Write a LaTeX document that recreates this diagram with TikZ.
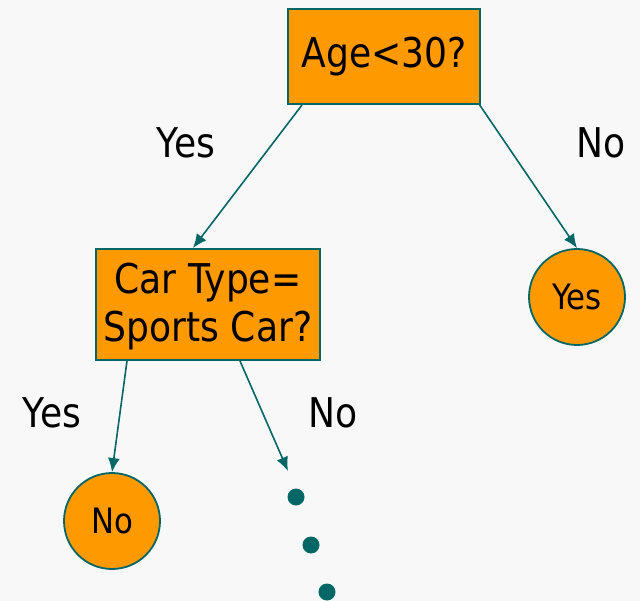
\documentclass[tikz,border=0pt]{standalone}
\usepackage{fontspec}
\usetikzlibrary{arrows.meta}
\setmainfont[FakeStretch=0.88]{DejaVu Sans}
\definecolor{bg}{HTML}{F8F8F8}
\definecolor{orng}{HTML}{FF9900}
\definecolor{teal2}{HTML}{006666}
\begin{document}
\begin{tikzpicture}[x=1pt,y=-1pt,
  dec/.style={draw=teal2,line width=1.8pt,fill=orng,inner sep=0pt,font=\fontsize{41}{48}\selectfont,align=center},
  leaf/.style={draw=teal2,line width=1.8pt,fill=orng,circle,minimum size=96pt,inner sep=0pt,font=\fontsize{35}{40}\selectfont},
  lab/.style={font=\fontsize{41}{46}\selectfont},
  edge/.style={draw=teal2,line width=1.6pt,-{Latex[length=14pt,width=12pt]}},
  dotn/.style={circle,fill=teal2,minimum size=17pt,inner sep=0pt}]
\fill[bg] (0,0) rectangle (640,601);
\useasboundingbox (0,0) rectangle (640,601);
\node[dec,minimum width=192pt,minimum height=95pt] (age) at (384,56.5) {Age<30?};
\node[dec,minimum width=224pt,minimum height=111pt,text depth=4pt] (car) at (208,304.5) {Car Type=\\Sports Car?};
\node[leaf] (yes) at (577,297) {Yes};
\node[leaf] (no) at (112,521) {No};
\node[dotn] (d1) at (296,497) {};
\node[dotn] (d2) at (311,545) {};
\node[dotn] (d3) at (327,592) {};
\coordinate (a1) at (302,105);
\coordinate (a2) at (479,104);
\coordinate (c1) at (127,361);
\coordinate (c2) at (240,361);
\coordinate (t1) at (193,248);
\coordinate (e4) at (288,471);
\node[lab] (l1) at (186,143) {Yes};
\node[lab] (l2) at (601,143) {No};
\node[lab] (l3) at (52,413) {Yes};
\node[lab] (l4) at (333,413) {No};
\draw[edge] (a1) -- (t1);
\draw[edge] (a2) -- (yes.north);
\draw[edge] (c1) -- (no.north);
\draw[edge] (c2) -- (e4);
\end{tikzpicture}
\end{document}
